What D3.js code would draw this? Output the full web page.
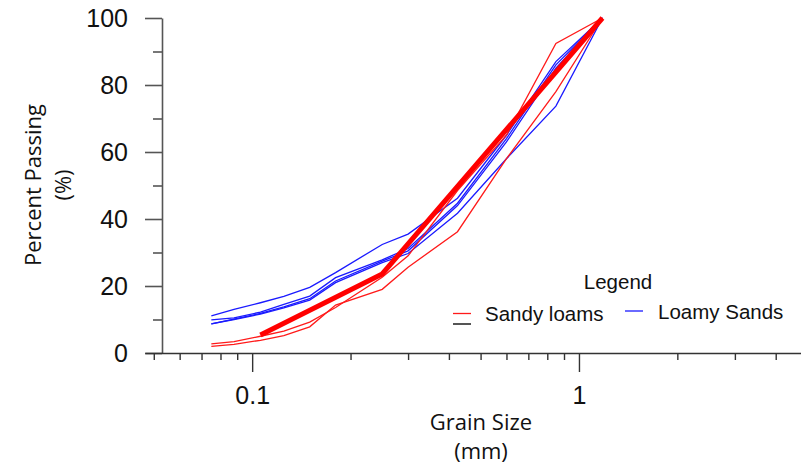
<!DOCTYPE html>
<html>
<head>
<meta charset="utf-8">
<script src="https://cdn.jsdelivr.net/npm/d3@7"></script>
<style>
  body { margin: 0; background: #fff; }
  svg { display: block; }
</style>
</head>
<body>
<div id="container"></div>
<script>
const w = 801;
const h = 466;

// sieve sizes (mm)
const sizes = [0.075, 0.088, 0.106, 0.125, 0.15, 0.18, 0.25, 0.3, 0.425, 0.6, 0.85, 1.18];

// percent passing, sandy loams
const sandyLoam1 = [2.0, 2.6, 3.8, 5.2, 7.8, 14.3, 19.0, 25.6, 36.2, 58, 78, 100];
const sandyLoam2 = [2.7, 3.4, 5.0, 6.5, 9.2, 13.6, 22.6, 29.0, 48.5, 65, 92.4, 100];

// percent passing, loamy sands
const loamySand1 = [11.1, 13.0, 15.0, 16.9, 19.6, 24.0, 32.4, 35.5, 46.2, 65, 87.0, 100];
const loamySand2 = [9.9, 10.5, 12.2, 14.5, 17.0, 22.5, 27.8, 31.2, 44.7, 64, 86.0, 100];
const loamySand3 = [8.7, 10.1, 11.8, 13.8, 16.2, 21.5, 27.4, 30.5, 44.0, 63, 85.0, 100];
const loamySand4 = [8.7, 10.0, 11.6, 13.5, 15.8, 21.0, 27.0, 29.7, 41.7, 58, 73.7, 100];

// bold sandy loam curve
const boldSizes = [0.106, 0.25, 1.18];
const boldValues = [5.4, 23.6, 100];

const xMajor = [0.1, 1];
const xMinor = [0.05, 0.06, 0.07, 0.08, 0.09, 0.2, 0.3, 0.4, 0.5, 0.6, 0.7, 0.8, 0.9, 2, 3, 4];
const yMajor = [0, 20, 40, 60, 80, 100];
const yMinor = [10, 30, 50, 70, 90];

const svg = d3.select("#container")
  .append("svg")
  .attr("width", w)
  .attr("height", h)
  .style("font-family", "'Liberation Sans', Arial, sans-serif");

const xScale = d3.scaleLog().domain([0.047, 4.78]).range([145, 801]);
const yScale = d3.scaleLinear().domain([0, 100]).range([353, 18]);
const yAxisX = 162;

// y axis
const yAxis = svg.append("g").attr("transform", `translate(${yAxisX},0)`);
yAxis.call(d3.axisLeft(yScale).tickValues(yMajor).tickSize(17).tickSizeOuter(0).tickPadding(17));
yAxis.append("g").call(d3.axisLeft(yScale).tickValues(yMinor).tickSize(9).tickFormat(""))
  .select(".domain").remove();
yAxis.selectAll("text").style("font-size", "25px").attr("fill", "#111");
yAxis.selectAll("line, path").attr("stroke", "#555").attr("stroke-width", 1.6);

// x axis
const xAxis = svg.append("g").attr("transform", `translate(0,${yScale(0)})`);
xAxis.call(d3.axisBottom(xScale).tickValues(xMajor).tickSize(19).tickSizeOuter(0)
  .tickPadding(14).tickFormat(d3.format("")));
xAxis.append("g").call(d3.axisBottom(xScale).tickValues(xMinor).tickSize(7).tickFormat(""))
  .select(".domain").remove();
xAxis.selectAll("text").style("font-size", "25px").attr("fill", "#111");
xAxis.selectAll("line, path").attr("stroke", "#333").attr("stroke-width", 1.4);

// curves
const line = d3.line()
  .x(d => xScale(d[0]))
  .y(d => yScale(d[1]));

const thin = [
  { values: loamySand1, color: "#1a1aff" },
  { values: loamySand2, color: "#1a1aff" },
  { values: loamySand3, color: "#1a1aff" },
  { values: loamySand4, color: "#1a1aff" },
  { values: sandyLoam1, color: "#ff1a1a" },
  { values: sandyLoam2, color: "#ff1a1a" }
];

svg.append("g")
  .selectAll("path")
  .data(thin)
  .enter()
  .append("path")
  .attr("d", d => line(sizes.map((s, i) => [s, d.values[i]])))
  .attr("fill", "none")
  .attr("stroke", d => d.color)
  .attr("stroke-width", 1.3);

svg.append("path")
  .attr("d", line(boldSizes.map((s, i) => [s, boldValues[i]])))
  .attr("fill", "none")
  .attr("stroke", "#ff0000")
  .attr("stroke-width", 5);

// axis titles
const titleFont = "'Open Sans', 'Noto Sans', sans-serif";
const yTitle = svg.append("text")
  .attr("transform", "translate(49,185) rotate(-90)")
  .attr("text-anchor", "middle")
  .style("font-family", titleFont)
  .style("font-size", "22px")
  .attr("fill", "#111");
yTitle.append("tspan").attr("x", 0).attr("dy", -8).text("Percent Passing");
yTitle.append("tspan").attr("x", 0).attr("dy", 30).text("(%)");

const xTitle = svg.append("text")
  .attr("text-anchor", "middle")
  .style("font-family", titleFont)
  .style("font-size", "22px")
  .attr("fill", "#111");
xTitle.append("tspan").attr("x", 481).attr("y", 430).text("Grain Size");
xTitle.append("tspan").attr("x", 481).attr("y", 459).text("(mm)");

// legend
const legend = svg.append("g").style("font-size", "20.5px").attr("fill", "#111");
legend.append("text").attr("x", 618).attr("y", 289).attr("text-anchor", "middle").text("Legend");
legend.append("line").attr("x1", 453).attr("x2", 471).attr("y1", 313.5).attr("y2", 313.5)
  .attr("stroke", "#ff1a1a").attr("stroke-width", 1.3);
legend.append("line").attr("x1", 453).attr("x2", 471).attr("y1", 324).attr("y2", 324)
  .attr("stroke", "#555").attr("stroke-width", 2);
legend.append("text").attr("x", 485).attr("y", 321).text("Sandy loams");
legend.append("line").attr("x1", 625).attr("x2", 643).attr("y1", 311).attr("y2", 311)
  .attr("stroke", "#1a1aff").attr("stroke-width", 1.3);
legend.append("text").attr("x", 658).attr("y", 319).text("Loamy Sands");
</script>
</body>
</html>
